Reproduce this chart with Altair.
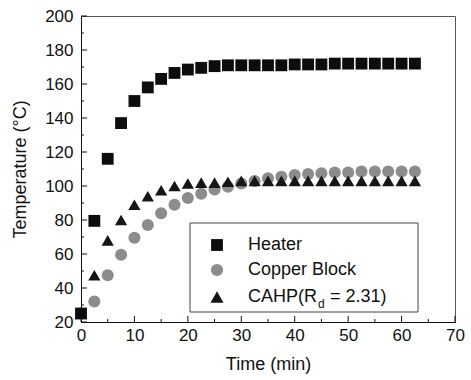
import altair as alt
import pandas as pd

FONT = "Liberation Sans"

series_names = ["Heater", "Copper Block", "CAHP"]
time_min = [0, 2.5, 5, 7.5, 10, 12.5, 15, 17.5, 20, 22.5, 25, 27.5, 30, 32.5,
            35, 37.5, 40, 42.5, 45, 47.5, 50, 52.5, 55, 57.5, 60, 62.5]
heater = [25, 79.5, 116, 137, 150, 158, 163, 166.5, 168.5, 169.5, 170.5, 171,
          171, 171, 171, 171, 171.5, 171.5, 171.5, 172, 172, 172, 172, 172, 172, 172]
copper = [25, 32, 47.5, 59.5, 69.5, 77, 84, 89, 93, 95.5, 98, 99.5, 101.5, 103,
          104.5, 105.5, 106.5, 107, 107.5, 108, 108, 108.5, 108.5, 108.5, 108.5, 108.5]
cahp = [25, 47.5, 68, 80, 89, 94, 97.5, 100, 101.5, 102, 102, 102.5, 103, 103,
        103, 103, 103, 103, 103, 103, 103, 103, 103, 103, 103, 103]

x_ticks = [0, 10, 20, 30, 40, 50, 60, 70]
x_minor = [5, 15, 25, 35, 45, 55, 65]
y_ticks = [20, 40, 60, 80, 100, 120, 140, 160, 180, 200]
y_minor = [30, 50, 70, 90, 110, 130, 150, 170, 190]

# drawing order: copper, CAHP, heater (heater on top at t = 0)
draw_order = ["Copper Block", "CAHP", "Heater"]
series_vals = {"Heater": heater, "Copper Block": copper, "CAHP": cahp}
rows = []
for name in draw_order:
    for t, v in zip(time_min, series_vals[name]):
        rows.append({"time": t, "temp": v, "series": name})
df = pd.DataFrame(rows)

W, H = 374, 306
INK = "#111111"

xscale = alt.Scale(domain=[0, 70], nice=False, zero=False)
yscale = alt.Scale(domain=[20, 200], nice=False, zero=False)

xaxis = alt.Axis(values=x_ticks, title="Time (min)", tickSize=0, labelPadding=5,
                 grid=False, domainColor=INK, labelFontSize=17, titleFontSize=18,
                 titlePadding=12, labelColor=INK, titleColor=INK,
                 titleFontWeight="normal", labelFont=FONT, titleFont=FONT,
                 labelFlush=False, format="d")
yaxis = alt.Axis(values=y_ticks, title="Temperature (°C)", tickSize=0, labelPadding=8,
                 grid=False, domainColor=INK, labelFontSize=17, titleFontSize=18,
                 titlePadding=15, labelColor=INK, titleColor=INK,
                 titleFontWeight="normal", labelFont=FONT, titleFont=FONT,
                 labelFlush=False, format="d")

xenc = alt.X("time:Q", scale=xscale, axis=xaxis)
yenc = alt.Y("temp:Q", scale=yscale, axis=yaxis)

shapes = ["square", "circle", "triangle-up"]
colors = ["#0d0d0d", "#8c8c8c", "#161616"]
sizes = [140, 150, 170]

points = alt.Chart(df).mark_point(filled=True, opacity=1).encode(
    x=xenc,
    y=yenc,
    shape=alt.Shape("series:N", scale=alt.Scale(domain=series_names, range=shapes), legend=None),
    color=alt.Color("series:N", scale=alt.Scale(domain=series_names, range=colors), legend=None),
    size=alt.Size("series:N", scale=alt.Scale(domain=series_names, range=sizes), legend=None),
)

def xticks_layer(vals, length):
    return alt.Chart(pd.DataFrame({"time": vals})).mark_rule(color=INK, strokeWidth=1).encode(
        x=xenc, y=alt.value(H), y2=alt.value(H - length))

def yticks_layer(vals, length):
    return alt.Chart(pd.DataFrame({"temp": vals})).mark_rule(color=INK, strokeWidth=1).encode(
        y=yenc, x=alt.value(0), x2=alt.value(length))

one = pd.DataFrame({"k": [0]})
legend_box = alt.Chart(one).mark_rect(fill="white", stroke="#444444", strokeWidth=1).encode(
    x=alt.value(109), x2=alt.value(337), y=alt.value(207), y2=alt.value(296))

row_y = [229, 254, 281]
legend_layers = [legend_box]
for name, yy, shp, col, sz in zip(series_names, row_y, shapes, colors, sizes):
    legend_layers.append(
        alt.Chart(one).mark_point(filled=True, opacity=1, shape=shp, color=col, size=sz).encode(
            x=alt.value(136), y=alt.value(yy)))

text_kw = dict(font=FONT, fontSize=18, color=INK, align="left", baseline="middle")
legend_layers.append(alt.Chart(one).mark_text(text="Heater", **text_kw).encode(
    x=alt.value(167), y=alt.value(row_y[0])))
legend_layers.append(alt.Chart(one).mark_text(text="Copper Block", **text_kw).encode(
    x=alt.value(167), y=alt.value(row_y[1])))
legend_layers.append(alt.Chart(one).mark_text(text="CAHP(R", **text_kw).encode(
    x=alt.value(167), y=alt.value(row_y[2])))
legend_layers.append(alt.Chart(one).mark_text(text="d", font=FONT, fontSize=12, color=INK,
                                              align="left", baseline="middle").encode(
    x=alt.value(237), y=alt.value(row_y[2] + 7)))
legend_layers.append(alt.Chart(one).mark_text(text="= 2.31)", **text_kw).encode(
    x=alt.value(249), y=alt.value(row_y[2])))

chart = alt.layer(
    xticks_layer(x_ticks, 6), xticks_layer(x_minor, 3),
    yticks_layer(y_ticks, 6), yticks_layer(y_minor, 3),
    points, *legend_layers,
).properties(
    width=W, height=H,
    padding={"left": 81, "top": 16, "right": 16, "bottom": 58},
    autosize=alt.AutoSizeParams(type="none"),
    background="white",
).configure_view(
    stroke="#555555", strokeWidth=1
).configure_axis(
    titleFontWeight="normal"
)

chart.save("out.html", embed_options={"renderer": "svg", "actions": False})
